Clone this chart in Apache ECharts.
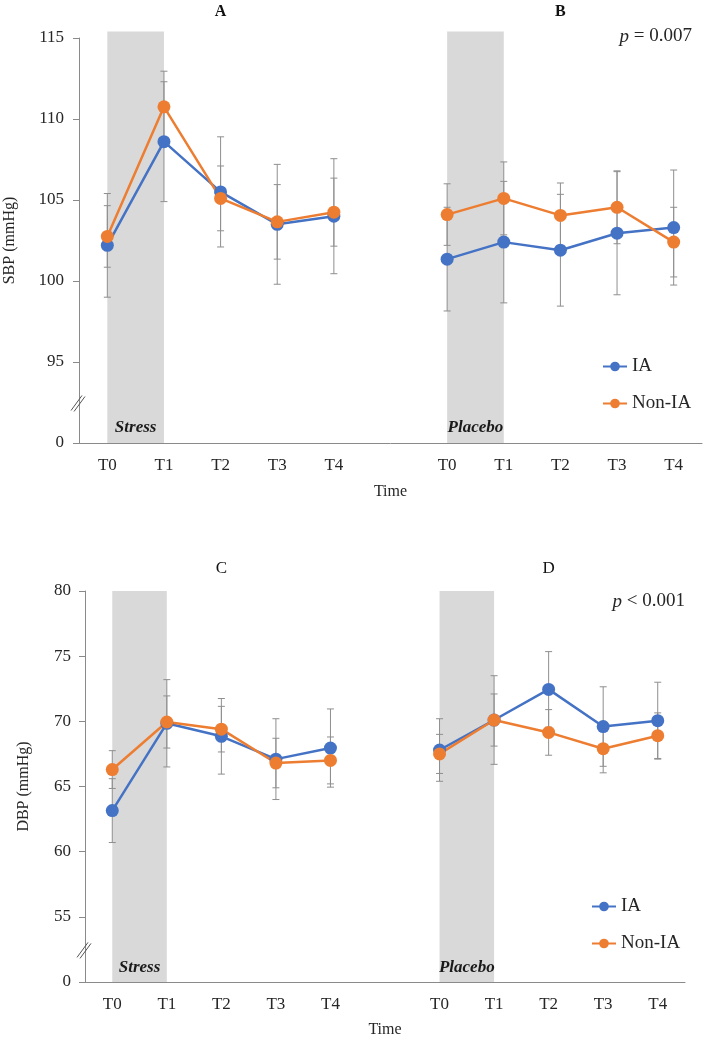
<!DOCTYPE html>
<html><head><meta charset="utf-8">
<script src="https://cdn.jsdelivr.net/npm/echarts@6/dist/echarts.min.js"></script>
<style>html,body{margin:0;padding:0;background:#fff}#c{width:705px;height:1038px}</style>
</head><body><div id="c"></div>
<script>
// ---------- data ----------
const timeLabels = ['T0', 'T1', 'T2', 'T3', 'T4', '', 'T0', 'T1', 'T2', 'T3', 'T4'];
const panelTitlesTop = ['', '', 'A', '', '', '', '', '', 'B', '', ''];
const panelTitlesBottom = ['', '', 'C', '', '', '', '', '', 'D', '', ''];
const seriesNames = ['IA', 'Non-IA'];

// SBP (panels A = stress, B = placebo)
const sbpIAStress = [102.2, 108.6, 105.5, 103.5, 104.0];
const sbpIAStressErr = [3.2, 3.7, 3.4, 3.7, 3.55];
const sbpNonStress = [102.75, 110.75, 105.1, 103.65, 104.25];
const sbpNonStressErr = [1.9, 2.2, 2.0, 2.3, 2.1];
const sbpIAPlacebo = [101.35, 102.4, 101.9, 102.95, 103.3];
const sbpIAPlaceboErr = [3.2, 3.75, 3.45, 3.8, 3.55];
const sbpNonPlacebo = [104.1, 105.1, 104.05, 104.55, 102.4];
const sbpNonPlaceboErr = [1.9, 2.25, 2.0, 2.25, 2.15];

// DBP (panels C = stress, D = placebo)
const dbpIAStress = [63.15, 69.85, 68.85, 67.1, 67.95];
const dbpIAStressErr = [2.45, 3.35, 2.9, 3.1, 3.0];
const dbpNonStress = [66.3, 69.95, 69.4, 66.8, 67.0];
const dbpNonStressErr = [1.45, 2.0, 1.75, 1.9, 1.8];
const dbpIAPlacebo = [67.8, 70.1, 72.45, 69.6, 70.05];
const dbpIAPlaceboErr = [2.4, 3.4, 2.9, 3.05, 2.95];
const dbpNonPlacebo = [67.5, 70.1, 69.15, 67.9, 68.9];
const dbpNonPlaceboErr = [1.5, 2.0, 1.75, 1.85, 1.75];

// shaded intervals: [startIndex, endIndex, topValue]
const bandLabels = ['Stress', 'Placebo'];
const sbpBands = [[0, 1, 115.4], [6, 7, 115.4]];
const dbpBands = [[0, 1, 80], [6, 7, 80]];

// axes
const sbpAxis = { min: 90, max: 115, interval: 5 };   // 90 shown as broken "0"
const dbpAxis = { min: 50, max: 80, interval: 5 };    // 50 shown as broken "0"
const sbpBreak = 92.5;
const dbpBreak = 52.5;
const pTexts = ['0.007', '< 0.001'];

// ---------- helpers ----------
const FONT = '"Liberation Serif", "Times New Roman", serif';
const TXT = '#262626';
const AXC = '#8a8a8a';
const BLUE = '#4472C4';
const ORANGE = '#ED7D31';
const STRESS_OFFSET = 0, PLACEBO_OFFSET = 6;

function joinPanels(a, b) { return a.concat(['-'], b); }
function errData(vals, errs, offset) {
  return vals.map((v, i) => [i + offset, v - errs[i], v + errs[i]]);
}

function renderErr(params, api) {
  const x = api.value(0), lo = api.value(1), hi = api.value(2);
  const pHi = api.coord([x, hi]), pLo = api.coord([x, lo]);
  const w = 3.5;
  const style = { stroke: '#8f8f8f', lineWidth: 1 };
  return { type: 'group', children: [
    { type: 'line', shape: { x1: pHi[0], y1: pHi[1], x2: pLo[0], y2: pLo[1] }, style },
    { type: 'line', shape: { x1: pHi[0] - w, y1: pHi[1], x2: pHi[0] + w, y2: pHi[1] }, style },
    { type: 'line', shape: { x1: pLo[0] - w, y1: pLo[1], x2: pLo[0] + w, y2: pLo[1] }, style }
  ]};
}

function makeBandRenderer(baseValue, labelGap) {
  return function (params, api) {
    const x0 = api.value(0), x1 = api.value(1), yTop = api.value(2);
    const p0 = api.coord([x0, baseValue]);
    const p1 = api.coord([x1, yTop]);
    return { type: 'group', children: [
      { type: 'rect', shape: { x: p0[0], y: p1[1], width: p1[0] - p0[0], height: p0[1] - p1[1] },
        style: { fill: '#d9d9d9' } },
      { type: 'text', x: (p0[0] + p1[0]) / 2, y: p0[1] - labelGap,
        style: { text: bandLabels[params.dataIndex], fill: '#1a1a1a',
          font: 'italic bold 17px ' + FONT, align: 'center', verticalAlign: 'bottom' } }
    ]};
  };
}

function renderBreak(params, api) {
  const p = api.coord([api.value(0), api.value(1)]);
  const x = p[0] - api.size([1, 0])[0] / 2, y = p[1];
  const style = { stroke: '#555', lineWidth: 1 };
  return { type: 'group', children: [
    { type: 'line', shape: { x1: x - 8, y1: y + 8, x2: x + 3, y2: y - 7 }, style },
    { type: 'line', shape: { x1: x - 5, y1: y + 9, x2: x + 6, y2: y - 6 }, style }
  ]};
}

function xAxisBase(gridIndex, nameGap) {
  return {
    type: 'category', gridIndex, data: timeLabels, boundaryGap: true,
    name: 'Time', nameLocation: 'middle', nameGap,
    nameTextStyle: { fontFamily: FONT, fontSize: 16, color: TXT },
    axisLine: { lineStyle: { color: AXC, width: 1 } },
    axisTick: { alignWithLabel: true, length: 5, lineStyle: { color: AXC } },
    axisLabel: { interval: 0, fontFamily: FONT, fontSize: 17, color: TXT, margin: 14 },
    splitLine: { show: false }
  };
}
function titleAxis(gridIndex, data, bold, size, margin) {
  return {
    type: 'category', gridIndex, data, position: 'top', boundaryGap: true,
    axisLine: { show: false }, axisTick: { show: false }, splitLine: { show: false },
    axisLabel: { interval: 0, fontFamily: FONT, fontSize: size, color: '#111',
      fontWeight: bold ? 'bold' : 'normal', margin }
  };
}
function yAxisBase(gridIndex, cfg, name, nameGap, labelMargin) {
  return {
    type: 'value', gridIndex, min: cfg.min, max: cfg.max, interval: cfg.interval,
    name, nameLocation: 'middle', nameGap, nameRotate: 90,
    nameTextStyle: { fontFamily: FONT, fontSize: 16, color: TXT },
    axisLine: { show: true, lineStyle: { color: AXC, width: 1 } },
    axisTick: { show: true, length: 6, lineStyle: { color: AXC } },
    axisLabel: { fontFamily: FONT, fontSize: 17, color: TXT, margin: labelMargin,
      formatter: v => (v === cfg.min ? '0' : String(v)) },
    splitLine: { show: false }
  };
}
function lineSeries(name, color, data, xi, yi) {
  return {
    type: 'line', name, xAxisIndex: xi, yAxisIndex: yi, data,
    symbol: 'circle', symbolSize: 13, connectNulls: false,
    lineStyle: { color, width: 2.5 }, itemStyle: { color },
    z: 5, animation: false
  };
}

const chart = echarts.init(document.getElementById('c'), null, { renderer: 'canvas' });
const legendCommon = {
  data: seriesNames, orient: 'vertical', itemGap: 18, itemWidth: 24, itemHeight: 12,
  textStyle: { fontFamily: FONT, fontSize: 19, color: TXT }, padding: 0
};
const pTitle = (txt, right, top) => ({
  text: '{i|p} ' + txt, right, top, padding: 0,
  textStyle: { fontFamily: FONT, fontSize: 19, fontWeight: 'normal', color: TXT,
    rich: { i: { fontFamily: FONT, fontSize: 19, fontStyle: 'italic', color: TXT } } }
});

chart.setOption({
  animation: false,
  backgroundColor: '#fff',
  title: [pTitle('= ' + pTexts[0], 13, 27), pTitle(pTexts[1], 20, 592)],
  legend: [
    Object.assign({ left: 602, top: 357 }, legendCommon),
    Object.assign({ left: 591, top: 897 }, legendCommon)
  ],
  grid: [
    { left: 79, top: 38, width: 623, height: 405, containLabel: false, outerBoundsMode: 'none' },
    { left: 85, top: 591, width: 600, height: 391, containLabel: false, outerBoundsMode: 'none' }
  ],
  xAxis: [
    xAxisBase(0, 41),
    xAxisBase(1, 40),
    titleAxis(0, panelTitlesTop, true, 16, 18),
    titleAxis(1, panelTitlesBottom, false, 17, 14)
  ],
  yAxis: [
    yAxisBase(0, sbpAxis, 'SBP (mmHg)', 61, 15),
    yAxisBase(1, dbpAxis, 'DBP (mmHg)', 53, 14)
  ],
  series: [
    { type: 'custom', name: 'bandSBP', xAxisIndex: 0, yAxisIndex: 0, clip: false, z: 1,
      renderItem: makeBandRenderer(sbpAxis.min, 7), data: sbpBands, encode: { x: [0, 1], y: 2 }, silent: true },
    { type: 'custom', name: 'bandDBP', xAxisIndex: 1, yAxisIndex: 1, clip: false, z: 1,
      renderItem: makeBandRenderer(dbpAxis.min, 6), data: dbpBands, encode: { x: [0, 1], y: 2 }, silent: true },
    { type: 'custom', name: 'breakSBP', xAxisIndex: 0, yAxisIndex: 0, clip: false, z: 6,
      renderItem: renderBreak, data: [[0, sbpBreak]], silent: true },
    { type: 'custom', name: 'breakDBP', xAxisIndex: 1, yAxisIndex: 1, clip: false, z: 6,
      renderItem: renderBreak, data: [[0, dbpBreak]], silent: true },
    { type: 'custom', name: 'errSBP', xAxisIndex: 0, yAxisIndex: 0, z: 3, renderItem: renderErr,
      encode: { x: 0, y: [1, 2] }, silent: true,
      data: [].concat(errData(sbpIAStress, sbpIAStressErr, STRESS_OFFSET),
        errData(sbpNonStress, sbpNonStressErr, STRESS_OFFSET),
        errData(sbpIAPlacebo, sbpIAPlaceboErr, PLACEBO_OFFSET),
        errData(sbpNonPlacebo, sbpNonPlaceboErr, PLACEBO_OFFSET)) },
    { type: 'custom', name: 'errDBP', xAxisIndex: 1, yAxisIndex: 1, z: 3, renderItem: renderErr,
      encode: { x: 0, y: [1, 2] }, silent: true,
      data: [].concat(errData(dbpIAStress, dbpIAStressErr, STRESS_OFFSET),
        errData(dbpNonStress, dbpNonStressErr, STRESS_OFFSET),
        errData(dbpIAPlacebo, dbpIAPlaceboErr, PLACEBO_OFFSET),
        errData(dbpNonPlacebo, dbpNonPlaceboErr, PLACEBO_OFFSET)) },
    lineSeries('IA', BLUE, joinPanels(sbpIAStress, sbpIAPlacebo), 0, 0),
    lineSeries('Non-IA', ORANGE, joinPanels(sbpNonStress, sbpNonPlacebo), 0, 0),
    lineSeries('IA', BLUE, joinPanels(dbpIAStress, dbpIAPlacebo), 1, 1),
    lineSeries('Non-IA', ORANGE, joinPanels(dbpNonStress, dbpNonPlacebo), 1, 1)
  ]
});
</script>
</body></html>
